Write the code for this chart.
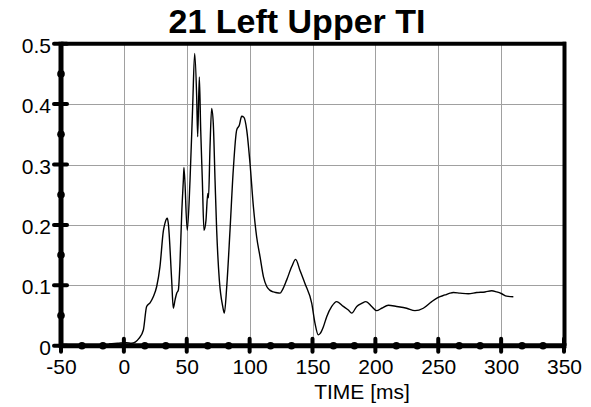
<!DOCTYPE html>
<html>
<head>
<meta charset="utf-8">
<script src="https://cdn.jsdelivr.net/npm/d3@7"></script>
<style>
  body { margin: 0; background: #fff; }
  svg { display: block; font-family: "Liberation Sans", Arial, sans-serif; }
</style>
</head>
<body>
<script>
const width = 591;
const height = 407;

// readings: time in ms, value
const timeMs = [-12, -5, 2, 6, 9, 12, 15.5, 18.1, 20.8, 23.4, 26.1, 28.7, 31.4, 32.7, 34.5, 35.3, 38, 39.3,
  40.7, 42, 43.3, 44.6, 46, 47.3, 47.8, 50.4, 52.6, 54.7, 56.3, 57.9, 58.7, 60, 61.1, 62.4, 63.7, 65.3,
  66.7, 67.3, 68.5, 69.8, 71.1, 72.5, 73.8, 75.9, 78.6, 79.9, 81.8, 84.4, 87, 89.7, 91.8, 93.7, 95.5,
  97.7, 100.3, 103, 105.6, 108.3, 111, 113.6, 116, 118.9, 121, 124.2, 126, 129.5, 133.5, 136.6, 140,
  144, 149.4, 152, 154.6, 156, 158.6, 161.3, 165.3, 169.2, 174.5, 178.5, 181.2, 185.2, 189.1, 192.5,
  197.1, 201, 205, 210.3, 216.9, 224.9, 231.5, 238.1, 244.8, 250, 255.4, 259.3, 262, 267.3, 273.9,
  280.6, 287.2, 292.5, 296.5, 300.5, 304.4, 309.7];
const values = [0.003, 0.004, 0.005, 0.004, 0.006, 0.012, 0.026, 0.065, 0.071, 0.081, 0.098, 0.131, 0.19, 0.203, 0.211, 0.203, 0.109, 0.062,
  0.076, 0.087, 0.092, 0.136, 0.219, 0.274, 0.295, 0.191, 0.274, 0.396, 0.484, 0.412, 0.346, 0.445, 0.357, 0.274, 0.191, 0.208,
  0.252, 0.245, 0.329, 0.393, 0.368, 0.274, 0.191, 0.109, 0.065, 0.054, 0.098, 0.191, 0.291, 0.357, 0.365, 0.380, 0.378,
  0.357, 0.302, 0.230, 0.180, 0.147, 0.114, 0.098, 0.092, 0.089, 0.088, 0.087, 0.092, 0.109, 0.131, 0.143, 0.125,
  0.103, 0.070, 0.037, 0.018, 0.020, 0.031, 0.048, 0.065, 0.073, 0.065, 0.059, 0.054, 0.065, 0.070, 0.073,
  0.065, 0.058, 0.062, 0.067, 0.065, 0.062, 0.058, 0.062, 0.073, 0.080, 0.084, 0.087, 0.088, 0.087, 0.086,
  0.088, 0.089, 0.091, 0.089, 0.086, 0.082, 0.081];

const xTicks = [-50, 0, 50, 100, 150, 200, 250, 300, 350];
const xTickLabels = ["-50", "0", "50", "100", "150", "200", "250", "300", "350"];
const yTicks = [0, 0.1, 0.2, 0.3, 0.4, 0.5];
const yTickLabels = ["0", "0.1", "0.2", "0.3", "0.4", "0.5"];

const title = "21 Left Upper TI";
const xTitle = "TIME [ms]";

const data = timeMs.map((t, i) => ({ t: t, v: values[i] }));

let margin = { top: 43.7, right: 27, bottom: 61.3, left: 61 };

let svg = d3
  .select("body")
  .append("svg")
  .attr("width", width)
  .attr("height", height);

let x = d3
  .scaleLinear()
  .domain([-50, 350])
  .range([margin.left, width - margin.right]);

let y = d3
  .scaleLinear()
  .domain([0, 0.5])
  .range([height - margin.bottom, margin.top]);

// grid
let grid = svg.append("g").attr("stroke", "#a0a0a0").attr("stroke-width", 1);
grid
  .selectAll("line.gx")
  .data(xTicks.slice(1, -1))
  .join("line")
  .attr("class", "gx")
  .attr("x1", (d) => Math.round(x(d)) + 0.5)
  .attr("x2", (d) => Math.round(x(d)) + 0.5)
  .attr("y1", y(0.5))
  .attr("y2", y(0));
grid
  .selectAll("line.gy")
  .data(yTicks.slice(1, -1))
  .join("line")
  .attr("class", "gy")
  .attr("x1", x(-50))
  .attr("x2", x(350))
  .attr("y1", (d) => Math.round(y(d)) + 0.5)
  .attr("y2", (d) => Math.round(y(d)) + 0.5);

// trace
let line = d3
  .line()
  .x((d) => x(d.t))
  .y((d) => y(d.v))
  .curve(d3.curveMonotoneX);

svg
  .append("path")
  .datum(data)
  .attr("fill", "none")
  .attr("stroke", "#000")
  .attr("stroke-width", 1.4)
  .attr("stroke-linejoin", "round")
  .attr("d", line);

// frame
svg.append("line").attr("x1", x(-50)).attr("x2", x(350) + 2).attr("y1", y(0.5)).attr("y2", y(0.5))
  .attr("stroke", "#000").attr("stroke-width", 4);
svg.append("line").attr("x1", x(350) + 0.5).attr("x2", x(350) + 0.5).attr("y1", y(0.5) - 2).attr("y2", y(0))
  .attr("stroke", "#000").attr("stroke-width", 4);
svg.append("line").attr("x1", x(-50)).attr("x2", x(-50)).attr("y1", y(0.5) - 2).attr("y2", y(0) + 2)
  .attr("stroke", "#000").attr("stroke-width", 5);
svg.append("line").attr("x1", x(-50) - 2).attr("x2", x(350) + 2.5).attr("y1", y(0)).attr("y2", y(0))
  .attr("stroke", "#000").attr("stroke-width", 5);

// axes (labels only, tick marks drawn below)
let bottomAxis = d3
  .axisBottom(x)
  .tickValues(xTicks)
  .tickFormat((d, i) => xTickLabels[i])
  .tickSize(0)
  .tickPadding(0);
let xAxisG = svg
  .append("g")
  .attr("transform", `translate(0, ${y(0)})`)
  .call(bottomAxis);
xAxisG.select(".domain").remove();
xAxisG
  .selectAll("text")
  .attr("dy", null)
  .attr("y", 28.5)
  .attr("font-size", 21)
  .attr("font-family", "Liberation Sans, Arial, sans-serif")
  .attr("fill", "#000");

let leftAxis = d3
  .axisLeft(y)
  .tickValues(yTicks)
  .tickFormat((d, i) => yTickLabels[i])
  .tickSize(0)
  .tickPadding(0);
let yAxisG = svg
  .append("g")
  .attr("transform", `translate(${margin.left - 10}, 0)`)
  .call(leftAxis);
yAxisG.select(".domain").remove();
yAxisG
  .selectAll("text")
  .attr("x", 0)
  .attr("dy", null)
  .attr("y", 8.5)
  .attr("font-size", 21)
  .attr("font-family", "Liberation Sans, Arial, sans-serif")
  .attr("fill", "#000");

// tick marks
let marks = svg.append("g").attr("stroke", "#000").attr("stroke-linecap", "round");
marks
  .selectAll("line.ty")
  .data(yTicks)
  .join("line")
  .attr("class", "ty")
  .attr("x1", margin.left - 7)
  .attr("x2", margin.left + 6)
  .attr("y1", (d) => y(d))
  .attr("y2", (d) => y(d))
  .attr("stroke-width", 4);
marks
  .selectAll("line.tx")
  .data(xTicks)
  .join("line")
  .attr("class", "tx")
  .attr("x1", (d) => x(d))
  .attr("x2", (d) => x(d))
  .attr("y1", y(0) - 7)
  .attr("y2", y(0) + 6)
  .attr("stroke-width", 4);

let yMinor = d3.range(0.05, 0.5, 0.1);
let xMinor = [];
xTicks.slice(0, -1).forEach((t) => {
  xMinor.push(t + 50 / 3, t + 100 / 3);
});
marks
  .selectAll("circle.my")
  .data(yMinor)
  .join("circle")
  .attr("class", "my")
  .attr("cx", margin.left)
  .attr("cy", (d) => y(d))
  .attr("r", 3.8)
  .attr("stroke", "none")
  .attr("fill", "#000");
marks
  .selectAll("circle.mx")
  .data(xMinor)
  .join("circle")
  .attr("class", "mx")
  .attr("cx", (d) => x(d))
  .attr("cy", y(0))
  .attr("r", 3.8)
  .attr("stroke", "none")
  .attr("fill", "#000");

// titles
svg
  .append("text")
  .attr("x", 297)
  .attr("y", 33)
  .attr("text-anchor", "middle")
  .attr("font-size", 34)
  .attr("font-weight", "bold")
  .text(title);

svg
  .append("text")
  .attr("x", 362)
  .attr("y", 399)
  .attr("text-anchor", "middle")
  .attr("font-size", 21)
  .text(xTitle);
</script>
</body>
</html>
